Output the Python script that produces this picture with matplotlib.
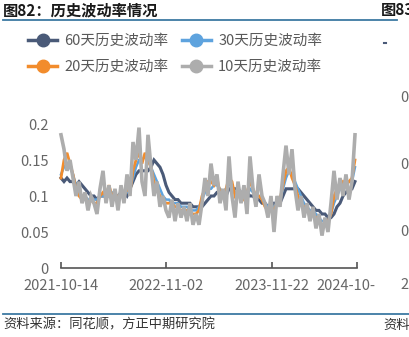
import numpy as np
import matplotlib
matplotlib.use('Agg')
import matplotlib.pyplot as plt
import matplotlib.transforms as mtransforms
from matplotlib.lines import Line2D

plt.rcParams['font.family'] = ['Noto Sans CJK SC', 'DejaVu Sans']

# Data (sampled every ~7 trading days, 2021-10-14 .. 2024-10)
vol_60 = [0.125, 0.12, 0.125, 0.12, 0.12, 0.115, 0.12, 0.115, 0.11, 0.105,
          0.1, 0.1, 0.095, 0.1, 0.1, 0.1, 0.1, 0.1, 0.1, 0.1,
          0.105, 0.105, 0.1, 0.11, 0.12, 0.13, 0.135, 0.135, 0.135, 0.135,
          0.14, 0.15, 0.145, 0.14, 0.13, 0.115, 0.105, 0.1, 0.095, 0.095,
          0.09, 0.09, 0.09, 0.09, 0.085, 0.085, 0.085, 0.085, 0.09, 0.095,
          0.1, 0.1, 0.105, 0.105, 0.105, 0.1, 0.11, 0.11, 0.11, 0.11,
          0.105, 0.105, 0.105, 0.1, 0.1, 0.095, 0.095, 0.09, 0.09, 0.085,
          0.085, 0.09, 0.09, 0.09, 0.1, 0.11, 0.11, 0.11, 0.11, 0.11,
          0.105, 0.1, 0.095, 0.09, 0.085, 0.08, 0.08, 0.075, 0.075, 0.07,
          0.07, 0.075, 0.085, 0.09, 0.1, 0.105, 0.11, 0.11, 0.12]
vol_30 = [0.13, 0.14, 0.145, 0.14, 0.13, 0.115, 0.105, 0.1, 0.1, 0.095,
          0.095, 0.095, 0.095, 0.1, 0.1, 0.1, 0.105, 0.105, 0.1, 0.1,
          0.1, 0.105, 0.105, 0.11, 0.125, 0.14, 0.15, 0.15, 0.155, 0.15,
          0.14, 0.13, 0.12, 0.11, 0.1, 0.095, 0.095, 0.09, 0.09, 0.09,
          0.085, 0.085, 0.085, 0.08, 0.08, 0.08, 0.085, 0.095, 0.105, 0.11,
          0.11, 0.115, 0.115, 0.11, 0.105, 0.11, 0.115, 0.115, 0.105, 0.105,
          0.1, 0.1, 0.1, 0.11, 0.105, 0.1, 0.1, 0.095, 0.09, 0.085,
          0.085, 0.085, 0.09, 0.095, 0.11, 0.125, 0.135, 0.13, 0.12, 0.11,
          0.1, 0.09, 0.085, 0.08, 0.08, 0.075, 0.07, 0.065, 0.065, 0.065,
          0.075, 0.09, 0.1, 0.11, 0.11, 0.115, 0.12, 0.12, 0.14]
vol_20 = [0.125, 0.15, 0.16, 0.145, 0.13, 0.11, 0.1, 0.095, 0.1, 0.09,
          0.095, 0.09, 0.09, 0.1, 0.105, 0.1, 0.115, 0.1, 0.105, 0.095,
          0.105, 0.1, 0.11, 0.105, 0.135, 0.15, 0.16, 0.145, 0.16, 0.15,
          0.14, 0.12, 0.11, 0.1, 0.095, 0.09, 0.09, 0.09, 0.085, 0.085,
          0.08, 0.08, 0.08, 0.075, 0.075, 0.075, 0.08, 0.1, 0.11, 0.12,
          0.12, 0.115, 0.125, 0.105, 0.1, 0.11, 0.125, 0.12, 0.1, 0.105,
          0.1, 0.095, 0.105, 0.12, 0.11, 0.1, 0.1, 0.095, 0.085, 0.08,
          0.085, 0.08, 0.09, 0.095, 0.115, 0.135, 0.14, 0.125, 0.115, 0.1,
          0.09, 0.085, 0.08, 0.075, 0.075, 0.07, 0.065, 0.06, 0.06, 0.065,
          0.075, 0.1, 0.11, 0.115, 0.12, 0.115, 0.12, 0.125, 0.15]
vol_10 = [0.185, 0.165, 0.135, 0.15, 0.125, 0.1, 0.12, 0.09, 0.105, 0.08,
          0.1, 0.09, 0.075, 0.11, 0.135, 0.09, 0.115, 0.085, 0.11, 0.08,
          0.115, 0.09, 0.13, 0.1, 0.175, 0.15, 0.195, 0.12, 0.1, 0.185,
          0.14, 0.1, 0.12, 0.085, 0.1, 0.08, 0.07, 0.095, 0.065, 0.09,
          0.07, 0.085, 0.065, 0.09, 0.06, 0.075, 0.06, 0.09, 0.125, 0.1,
          0.145, 0.115, 0.13, 0.09, 0.11, 0.08, 0.155, 0.1, 0.07, 0.12,
          0.09, 0.115, 0.075, 0.155, 0.11, 0.085, 0.13, 0.1, 0.09, 0.07,
          0.1, 0.05, 0.1, 0.085, 0.13, 0.17, 0.13, 0.165, 0.11, 0.08,
          0.1, 0.07, 0.09, 0.065, 0.085, 0.055, 0.075, 0.045, 0.07, 0.05,
          0.09, 0.135, 0.095, 0.125, 0.1, 0.13, 0.095, 0.12, 0.185]

series_names = ['60天历史波动率', '30天历史波动率', '20天历史波动率', '10天历史波动率']
series_colors = ['#4a5a78', '#5ea3de', '#f28c2c', '#adadad']
series_widths = [2.2, 1.8, 2.0, 2.6]

xtick_pos = [0, 35, 70.33, 98.67]
xtick_labels = ['2021-10-14', '2022-11-02', '2023-11-22', '2024-10-']
ytick_vals = [0, 0.05, 0.1, 0.15, 0.2]
ytick_labels = ['0', '0.05', '0.1', '0.15', '0.2']

fig = plt.figure(figsize=(4.09, 3.37), dpi=100)
ax = fig.add_axes([61 / 409, 1 - 268 / 337, 296 / 409, 144 / 337])

x = np.arange(len(vol_10))
for vals, c, lw in zip([vol_60, vol_30, vol_20, vol_10], series_colors, series_widths):
    ax.plot(x, vals, color=c, lw=lw, clip_on=False, solid_joinstyle='miter')

ax.set_xlim(0, 98.67)
ax.set_ylim(0, 0.2)
ax.set_yticks(ytick_vals)
ax.set_yticklabels(ytick_labels)
ax.set_xticks(xtick_pos)
ax.set_xticklabels(xtick_labels)
for s in ['top', 'right', 'left']:
    ax.spines[s].set_visible(False)
ax.spines['bottom'].set_color('#555555')
ax.spines['bottom'].set_linewidth(1.2)
ax.tick_params(axis='x', direction='in', length=4, width=1.2, color='#555555',
               labelsize=10.5, labelcolor='#666666', pad=8)
ax.tick_params(axis='y', length=0, labelsize=10.5, labelcolor='#666666', pad=9)

# last label is cut off in the original; shift to match
last = ax.get_xticklabels()[-1]
last.set_transform(last.get_transform() + mtransforms.ScaledTranslation(-11 / 100, 0, fig.dpi_scale_trans))

handles = [Line2D([0], [0], color=c, lw=2.5, marker='o', markersize=9) for c in series_colors]
order = [0, 2, 1, 3]
fig.legend([handles[i] for i in order], [series_names[i] for i in order], ncol=2,
           loc='upper left', bbox_to_anchor=(28 / 409, 1 - 34 / 337), frameon=False,
           fontsize=10.5, labelcolor='#595959', handlelength=2.0, handletextpad=0.5,
           columnspacing=0.9, labelspacing=0.8, borderpad=0, borderaxespad=0)

fig.text(3 / 409, 1 - 10 / 337, '图82：历史波动率情况', fontsize=11, fontweight='bold',
         color='#1a1a1a', va='center', ha='left')
fig.text(381 / 409, 1 - 10 / 337, '图83', fontsize=11, fontweight='bold',
         color='#1a1a1a', va='center', ha='left')
fig.add_artist(Line2D([3 / 409, 397 / 409], [1 - 20 / 337, 1 - 20 / 337], color='#3d7aa3', lw=1.3))
fig.add_artist(Line2D([3 / 409, 409 / 409], [1 - 314 / 337, 1 - 314 / 337], color='#3d7aa3', lw=1.3))
fig.text(3 / 409, 1 - 325 / 337, '资料来源：同花顺，方正中期研究院', fontsize=9.5,
         color='#333333', va='center', ha='left', style='italic')
fig.text(383 / 409, 1 - 325 / 337, '资料', fontsize=9.5,
         color='#333333', va='center', ha='left', style='italic')

# pieces of the neighbouring chart at the right edge
for yy, t in [(98, '0'), (165, '0'), (232, '0'), (285, '2')]:
    fig.text(400 / 409, 1 - yy / 337, t, fontsize=10.5, color='#666666', va='center', ha='left')
fig.add_artist(Line2D([384 / 409, 386 / 409], [1 - 43 / 337, 1 - 43 / 337], color='#4a5a78', lw=1.5))

fig.savefig('out.png', dpi=100)
